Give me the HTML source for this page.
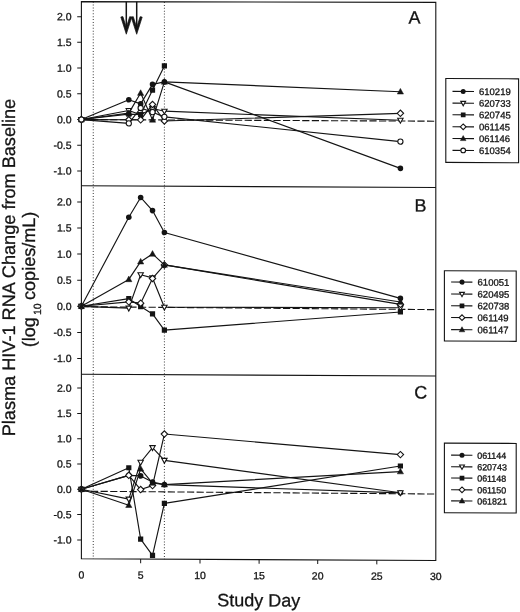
<!DOCTYPE html>
<html><head><meta charset="utf-8"><title>Plasma HIV-1 RNA Change from Baseline</title>
<style>html,body{margin:0;padding:0;background:#fff}body{width:520px;height:612px;overflow:hidden}svg{display:block;will-change:transform;opacity:0.999}text{font-family:"Liberation Sans",sans-serif;fill:#141414;stroke:#141414;stroke-width:0.3px}</style></head><body>
<svg width="520" height="612" viewBox="0 0 520 612">
<rect width="520" height="612" fill="#fff"/>
<g transform="matrix(1 0.00465 0 1 0 -0.3766)">
<line x1="93.25" y1="1.6" x2="93.25" y2="558.8" stroke="#3a3a3a" stroke-width="1" stroke-dasharray="1 1.9"/>
<line x1="164.39" y1="1.6" x2="164.39" y2="558.8" stroke="#3a3a3a" stroke-width="1" stroke-dasharray="1 1.9"/>
<line x1="81.4" y1="119.55" x2="435.8" y2="119.55" stroke="#141414" stroke-width="1.1" stroke-dasharray="7.2 2.4"/>
<line x1="81.4" y1="306.70" x2="435.8" y2="308.00" stroke="#141414" stroke-width="1.1" stroke-dasharray="7.2 2.4"/>
<line x1="81.4" y1="491.20" x2="435.8" y2="492.40" stroke="#141414" stroke-width="1.1" stroke-dasharray="7.2 2.4"/>
<path d="M81.4 1.6L435.8 0.75L435.8 558.8L81.4 558.8Z" fill="none" stroke="#141414" stroke-width="1.1" stroke-linejoin="miter"/>
<line x1="81.4" y1="185.8" x2="435.8" y2="185.8" stroke="#141414" stroke-width="1.1"/>
<line x1="81.4" y1="374.3" x2="435.8" y2="374.3" stroke="#141414" stroke-width="1.1"/>
<line x1="77.2" y1="16.65" x2="81.4" y2="16.65" stroke="#141414" stroke-width="1"/>
<text x="71.6" y="20.35" font-size="10.5" text-anchor="end">2.0</text>
<line x1="77.2" y1="42.37" x2="81.4" y2="42.37" stroke="#141414" stroke-width="1"/>
<text x="71.6" y="46.07" font-size="10.5" text-anchor="end">1.5</text>
<line x1="77.2" y1="68.10" x2="81.4" y2="68.10" stroke="#141414" stroke-width="1"/>
<text x="71.6" y="71.80" font-size="10.5" text-anchor="end">1.0</text>
<line x1="77.2" y1="93.82" x2="81.4" y2="93.82" stroke="#141414" stroke-width="1"/>
<text x="71.6" y="97.52" font-size="10.5" text-anchor="end">0.5</text>
<line x1="77.2" y1="119.55" x2="81.4" y2="119.55" stroke="#141414" stroke-width="1"/>
<text x="71.6" y="123.25" font-size="10.5" text-anchor="end">0.0</text>
<line x1="77.2" y1="145.28" x2="81.4" y2="145.28" stroke="#141414" stroke-width="1"/>
<text x="71.6" y="148.97" font-size="10.5" text-anchor="end">-0.5</text>
<line x1="77.2" y1="171.00" x2="81.4" y2="171.00" stroke="#141414" stroke-width="1"/>
<text x="71.6" y="174.70" font-size="10.5" text-anchor="end">-1.0</text>
<line x1="77.2" y1="201.90" x2="81.4" y2="201.90" stroke="#141414" stroke-width="1"/>
<text x="71.6" y="205.60" font-size="10.5" text-anchor="end">2.0</text>
<line x1="77.2" y1="228.00" x2="81.4" y2="228.00" stroke="#141414" stroke-width="1"/>
<text x="71.6" y="231.70" font-size="10.5" text-anchor="end">1.5</text>
<line x1="77.2" y1="254.10" x2="81.4" y2="254.10" stroke="#141414" stroke-width="1"/>
<text x="71.6" y="257.80" font-size="10.5" text-anchor="end">1.0</text>
<line x1="77.2" y1="280.20" x2="81.4" y2="280.20" stroke="#141414" stroke-width="1"/>
<text x="71.6" y="283.90" font-size="10.5" text-anchor="end">0.5</text>
<line x1="77.2" y1="306.30" x2="81.4" y2="306.30" stroke="#141414" stroke-width="1"/>
<text x="71.6" y="310.00" font-size="10.5" text-anchor="end">0.0</text>
<line x1="77.2" y1="332.40" x2="81.4" y2="332.40" stroke="#141414" stroke-width="1"/>
<text x="71.6" y="336.10" font-size="10.5" text-anchor="end">-0.5</text>
<line x1="77.2" y1="358.50" x2="81.4" y2="358.50" stroke="#141414" stroke-width="1"/>
<text x="71.6" y="362.20" font-size="10.5" text-anchor="end">-1.0</text>
<line x1="77.2" y1="388.10" x2="81.4" y2="388.10" stroke="#141414" stroke-width="1"/>
<text x="71.6" y="391.80" font-size="10.5" text-anchor="end">2.0</text>
<line x1="77.2" y1="413.40" x2="81.4" y2="413.40" stroke="#141414" stroke-width="1"/>
<text x="71.6" y="417.10" font-size="10.5" text-anchor="end">1.5</text>
<line x1="77.2" y1="438.70" x2="81.4" y2="438.70" stroke="#141414" stroke-width="1"/>
<text x="71.6" y="442.40" font-size="10.5" text-anchor="end">1.0</text>
<line x1="77.2" y1="464.00" x2="81.4" y2="464.00" stroke="#141414" stroke-width="1"/>
<text x="71.6" y="467.70" font-size="10.5" text-anchor="end">0.5</text>
<line x1="77.2" y1="489.30" x2="81.4" y2="489.30" stroke="#141414" stroke-width="1"/>
<text x="71.6" y="493.00" font-size="10.5" text-anchor="end">0.0</text>
<line x1="77.2" y1="514.60" x2="81.4" y2="514.60" stroke="#141414" stroke-width="1"/>
<text x="71.6" y="518.30" font-size="10.5" text-anchor="end">-0.5</text>
<line x1="77.2" y1="539.90" x2="81.4" y2="539.90" stroke="#141414" stroke-width="1"/>
<text x="71.6" y="543.60" font-size="10.5" text-anchor="end">-1.0</text>
<text x="81.40" y="578.4" font-size="10.5" text-anchor="middle">0</text>
<line x1="140.65" y1="558.8" x2="140.65" y2="563.0" stroke="#141414" stroke-width="1"/>
<text x="140.65" y="578.4" font-size="10.5" text-anchor="middle">5</text>
<line x1="200.00" y1="558.8" x2="200.00" y2="563.0" stroke="#141414" stroke-width="1"/>
<text x="200.00" y="578.4" font-size="10.5" text-anchor="middle">10</text>
<line x1="259.10" y1="558.8" x2="259.10" y2="563.0" stroke="#141414" stroke-width="1"/>
<text x="259.10" y="578.4" font-size="10.5" text-anchor="middle">15</text>
<line x1="317.70" y1="558.8" x2="317.70" y2="563.0" stroke="#141414" stroke-width="1"/>
<text x="317.70" y="578.4" font-size="10.5" text-anchor="middle">20</text>
<line x1="376.80" y1="558.8" x2="376.80" y2="563.0" stroke="#141414" stroke-width="1"/>
<text x="376.80" y="578.4" font-size="10.5" text-anchor="middle">25</text>
<text x="435.80" y="578.4" font-size="10.5" text-anchor="middle">30</text>
<path d="M81.40 119.55L128.80 99.48L140.65 103.60L152.52 84.05L164.39 81.48L400.40 166.88" fill="none" stroke="#141414" stroke-width="1.15" stroke-linejoin="round"/>
<circle cx="81.40" cy="119.55" r="2.80" fill="#141414"/>
<circle cx="128.80" cy="99.48" r="2.80" fill="#141414"/>
<circle cx="140.65" cy="103.60" r="2.80" fill="#141414"/>
<circle cx="152.52" cy="84.05" r="2.80" fill="#141414"/>
<circle cx="164.39" cy="81.48" r="2.80" fill="#141414"/>
<circle cx="400.40" cy="166.88" r="2.80" fill="#141414"/>
<path d="M81.40 119.55L128.80 110.29L140.65 114.41L152.52 108.23L164.39 110.80L400.40 118.78" fill="none" stroke="#141414" stroke-width="1.15" stroke-linejoin="round"/>
<path d="M78.70 117.55L84.10 117.55L81.40 122.45Z" fill="#fff" stroke="#141414" stroke-width="1.1"/>
<path d="M126.10 108.29L131.50 108.29L128.80 113.19Z" fill="#fff" stroke="#141414" stroke-width="1.1"/>
<path d="M137.95 112.41L143.35 112.41L140.65 117.31Z" fill="#fff" stroke="#141414" stroke-width="1.1"/>
<path d="M149.82 106.23L155.22 106.23L152.52 111.13Z" fill="#fff" stroke="#141414" stroke-width="1.1"/>
<path d="M161.69 108.80L167.09 108.80L164.39 113.70Z" fill="#fff" stroke="#141414" stroke-width="1.1"/>
<path d="M397.70 116.78L403.10 116.78L400.40 121.68Z" fill="#fff" stroke="#141414" stroke-width="1.1"/>
<path d="M81.40 119.55L128.80 113.89L140.65 114.41L152.52 89.71L164.39 65.53" fill="none" stroke="#141414" stroke-width="1.15" stroke-linejoin="round"/>
<rect x="78.80" y="116.95" width="5.20" height="5.20" fill="#141414"/>
<rect x="126.20" y="111.29" width="5.20" height="5.20" fill="#141414"/>
<rect x="138.05" y="111.81" width="5.20" height="5.20" fill="#141414"/>
<rect x="149.92" y="87.11" width="5.20" height="5.20" fill="#141414"/>
<rect x="161.79" y="62.93" width="5.20" height="5.20" fill="#141414"/>
<path d="M81.40 119.55L128.80 119.55L140.65 119.55L152.52 104.11L164.39 120.58L400.40 111.83" fill="none" stroke="#141414" stroke-width="1.15" stroke-linejoin="round"/>
<path d="M78.20 119.55L81.40 116.35L84.60 119.55L81.40 122.75Z" fill="#fff" stroke="#141414" stroke-width="1.1"/>
<path d="M125.60 119.55L128.80 116.35L132.00 119.55L128.80 122.75Z" fill="#fff" stroke="#141414" stroke-width="1.1"/>
<path d="M137.45 119.55L140.65 116.35L143.85 119.55L140.65 122.75Z" fill="#fff" stroke="#141414" stroke-width="1.1"/>
<path d="M149.32 104.11L152.52 100.91L155.72 104.11L152.52 107.31Z" fill="#fff" stroke="#141414" stroke-width="1.1"/>
<path d="M161.19 120.58L164.39 117.38L167.59 120.58L164.39 123.78Z" fill="#fff" stroke="#141414" stroke-width="1.1"/>
<path d="M397.20 111.83L400.40 108.63L403.60 111.83L400.40 115.03Z" fill="#fff" stroke="#141414" stroke-width="1.1"/>
<path d="M81.40 119.55L128.80 112.86L140.65 92.80L152.52 119.55L164.39 81.48L400.40 90.22" fill="none" stroke="#141414" stroke-width="1.15" stroke-linejoin="round"/>
<path d="M78.30 121.85L81.40 116.25L84.50 121.85Z" fill="#141414" stroke="#141414" stroke-width="0.5"/>
<path d="M125.70 115.16L128.80 109.56L131.90 115.16Z" fill="#141414" stroke="#141414" stroke-width="0.5"/>
<path d="M137.55 95.10L140.65 89.50L143.75 95.10Z" fill="#141414" stroke="#141414" stroke-width="0.5"/>
<path d="M149.42 121.85L152.52 116.25L155.62 121.85Z" fill="#141414" stroke="#141414" stroke-width="0.5"/>
<path d="M161.29 83.78L164.39 78.18L167.49 83.78Z" fill="#141414" stroke="#141414" stroke-width="0.5"/>
<path d="M397.30 92.52L400.40 86.92L403.50 92.52Z" fill="#141414" stroke="#141414" stroke-width="0.5"/>
<path d="M81.40 119.55L128.80 123.15L140.65 107.72L152.52 111.83L164.39 116.46L400.40 140.13" fill="none" stroke="#141414" stroke-width="1.15" stroke-linejoin="round"/>
<circle cx="81.40" cy="119.55" r="2.60" fill="#fff" stroke="#141414" stroke-width="1.1"/>
<circle cx="128.80" cy="123.15" r="2.60" fill="#fff" stroke="#141414" stroke-width="1.1"/>
<circle cx="140.65" cy="107.72" r="2.60" fill="#fff" stroke="#141414" stroke-width="1.1"/>
<circle cx="152.52" cy="111.83" r="2.60" fill="#fff" stroke="#141414" stroke-width="1.1"/>
<circle cx="164.39" cy="116.46" r="2.60" fill="#fff" stroke="#141414" stroke-width="1.1"/>
<circle cx="400.40" cy="140.13" r="2.60" fill="#fff" stroke="#141414" stroke-width="1.1"/>
<path d="M81.40 306.30L128.80 217.04L140.65 197.20L152.52 210.25L164.39 232.18L400.40 296.90" fill="none" stroke="#141414" stroke-width="1.15" stroke-linejoin="round"/>
<circle cx="81.40" cy="306.30" r="2.80" fill="#141414"/>
<circle cx="128.80" cy="217.04" r="2.80" fill="#141414"/>
<circle cx="140.65" cy="197.20" r="2.80" fill="#141414"/>
<circle cx="152.52" cy="210.25" r="2.80" fill="#141414"/>
<circle cx="164.39" cy="232.18" r="2.80" fill="#141414"/>
<circle cx="400.40" cy="296.90" r="2.80" fill="#141414"/>
<path d="M81.40 306.30L128.80 307.87L140.65 274.46L152.52 277.59L164.39 306.82L400.40 306.30" fill="none" stroke="#141414" stroke-width="1.15" stroke-linejoin="round"/>
<path d="M78.70 304.30L84.10 304.30L81.40 309.20Z" fill="#fff" stroke="#141414" stroke-width="1.1"/>
<path d="M126.10 305.87L131.50 305.87L128.80 310.77Z" fill="#fff" stroke="#141414" stroke-width="1.1"/>
<path d="M137.95 272.46L143.35 272.46L140.65 277.36Z" fill="#fff" stroke="#141414" stroke-width="1.1"/>
<path d="M149.82 275.59L155.22 275.59L152.52 280.49Z" fill="#fff" stroke="#141414" stroke-width="1.1"/>
<path d="M161.69 304.82L167.09 304.82L164.39 309.72Z" fill="#fff" stroke="#141414" stroke-width="1.1"/>
<path d="M397.70 304.30L403.10 304.30L400.40 309.20Z" fill="#fff" stroke="#141414" stroke-width="1.1"/>
<path d="M81.40 306.30L128.80 298.47L140.65 306.30L152.52 313.61L164.39 329.79L400.40 310.48" fill="none" stroke="#141414" stroke-width="1.15" stroke-linejoin="round"/>
<rect x="78.80" y="303.70" width="5.20" height="5.20" fill="#141414"/>
<rect x="126.20" y="295.87" width="5.20" height="5.20" fill="#141414"/>
<rect x="138.05" y="303.70" width="5.20" height="5.20" fill="#141414"/>
<rect x="149.92" y="311.01" width="5.20" height="5.20" fill="#141414"/>
<rect x="161.79" y="327.19" width="5.20" height="5.20" fill="#141414"/>
<rect x="397.80" y="307.88" width="5.20" height="5.20" fill="#141414"/>
<path d="M81.40 306.30L128.80 301.60L140.65 302.91L152.52 278.11L164.39 264.54L400.40 302.91" fill="none" stroke="#141414" stroke-width="1.15" stroke-linejoin="round"/>
<path d="M78.20 306.30L81.40 303.10L84.60 306.30L81.40 309.50Z" fill="#fff" stroke="#141414" stroke-width="1.1"/>
<path d="M125.60 301.60L128.80 298.40L132.00 301.60L128.80 304.80Z" fill="#fff" stroke="#141414" stroke-width="1.1"/>
<path d="M137.45 302.91L140.65 299.71L143.85 302.91L140.65 306.11Z" fill="#fff" stroke="#141414" stroke-width="1.1"/>
<path d="M149.32 278.11L152.52 274.91L155.72 278.11L152.52 281.31Z" fill="#fff" stroke="#141414" stroke-width="1.1"/>
<path d="M161.19 264.54L164.39 261.34L167.59 264.54L164.39 267.74Z" fill="#fff" stroke="#141414" stroke-width="1.1"/>
<path d="M397.20 302.91L400.40 299.71L403.60 302.91L400.40 306.11Z" fill="#fff" stroke="#141414" stroke-width="1.1"/>
<path d="M81.40 306.30L128.80 279.16L140.65 261.41L152.52 253.58L164.39 264.54L400.40 300.56" fill="none" stroke="#141414" stroke-width="1.15" stroke-linejoin="round"/>
<path d="M78.30 308.60L81.40 303.00L84.50 308.60Z" fill="#141414" stroke="#141414" stroke-width="0.5"/>
<path d="M125.70 281.46L128.80 275.86L131.90 281.46Z" fill="#141414" stroke="#141414" stroke-width="0.5"/>
<path d="M137.55 263.71L140.65 258.11L143.75 263.71Z" fill="#141414" stroke="#141414" stroke-width="0.5"/>
<path d="M149.42 255.88L152.52 250.28L155.62 255.88Z" fill="#141414" stroke="#141414" stroke-width="0.5"/>
<path d="M161.29 266.84L164.39 261.24L167.49 266.84Z" fill="#141414" stroke="#141414" stroke-width="0.5"/>
<path d="M397.30 302.86L400.40 297.26L403.50 302.86Z" fill="#141414" stroke="#141414" stroke-width="0.5"/>
<path d="M81.40 489.30L128.80 475.13L140.65 475.64L152.52 481.71L164.39 484.24L400.40 491.32" fill="none" stroke="#141414" stroke-width="1.15" stroke-linejoin="round"/>
<circle cx="81.40" cy="489.30" r="2.80" fill="#141414"/>
<circle cx="128.80" cy="475.13" r="2.80" fill="#141414"/>
<circle cx="140.65" cy="475.64" r="2.80" fill="#141414"/>
<circle cx="152.52" cy="481.71" r="2.80" fill="#141414"/>
<circle cx="164.39" cy="484.24" r="2.80" fill="#141414"/>
<circle cx="400.40" cy="491.32" r="2.80" fill="#141414"/>
<path d="M81.40 489.30L128.80 498.91L140.65 461.98L152.52 447.30L164.39 459.95L400.40 491.32" fill="none" stroke="#141414" stroke-width="1.15" stroke-linejoin="round"/>
<path d="M78.70 487.30L84.10 487.30L81.40 492.20Z" fill="#fff" stroke="#141414" stroke-width="1.1"/>
<path d="M126.10 496.91L131.50 496.91L128.80 501.81Z" fill="#fff" stroke="#141414" stroke-width="1.1"/>
<path d="M137.95 459.98L143.35 459.98L140.65 464.88Z" fill="#fff" stroke="#141414" stroke-width="1.1"/>
<path d="M149.82 445.30L155.22 445.30L152.52 450.20Z" fill="#fff" stroke="#141414" stroke-width="1.1"/>
<path d="M161.69 457.95L167.09 457.95L164.39 462.85Z" fill="#fff" stroke="#141414" stroke-width="1.1"/>
<path d="M397.70 489.32L403.10 489.32L400.40 494.22Z" fill="#fff" stroke="#141414" stroke-width="1.1"/>
<path d="M81.40 489.30L128.80 467.54L140.65 538.89L152.52 555.08L164.39 502.96L400.40 464.51" fill="none" stroke="#141414" stroke-width="1.15" stroke-linejoin="round"/>
<rect x="78.80" y="486.70" width="5.20" height="5.20" fill="#141414"/>
<rect x="126.20" y="464.94" width="5.20" height="5.20" fill="#141414"/>
<rect x="138.05" y="536.29" width="5.20" height="5.20" fill="#141414"/>
<rect x="149.92" y="552.48" width="5.20" height="5.20" fill="#141414"/>
<rect x="161.79" y="500.36" width="5.20" height="5.20" fill="#141414"/>
<rect x="397.80" y="461.91" width="5.20" height="5.20" fill="#141414"/>
<path d="M81.40 489.30L128.80 475.13L140.65 489.30L152.52 485.25L164.39 433.64L400.40 453.12" fill="none" stroke="#141414" stroke-width="1.15" stroke-linejoin="round"/>
<path d="M78.20 489.30L81.40 486.10L84.60 489.30L81.40 492.50Z" fill="#fff" stroke="#141414" stroke-width="1.1"/>
<path d="M125.60 475.13L128.80 471.93L132.00 475.13L128.80 478.33Z" fill="#fff" stroke="#141414" stroke-width="1.1"/>
<path d="M137.45 489.30L140.65 486.10L143.85 489.30L140.65 492.50Z" fill="#fff" stroke="#141414" stroke-width="1.1"/>
<path d="M149.32 485.25L152.52 482.05L155.72 485.25L152.52 488.45Z" fill="#fff" stroke="#141414" stroke-width="1.1"/>
<path d="M161.19 433.64L164.39 430.44L167.59 433.64L164.39 436.84Z" fill="#fff" stroke="#141414" stroke-width="1.1"/>
<path d="M397.20 453.12L400.40 449.92L403.60 453.12L400.40 456.32Z" fill="#fff" stroke="#141414" stroke-width="1.1"/>
<path d="M81.40 489.30L128.80 504.99L140.65 468.55L152.52 482.72L164.39 484.24L400.40 470.07" fill="none" stroke="#141414" stroke-width="1.15" stroke-linejoin="round"/>
<path d="M78.30 491.60L81.40 486.00L84.50 491.60Z" fill="#141414" stroke="#141414" stroke-width="0.5"/>
<path d="M125.70 507.29L128.80 501.69L131.90 507.29Z" fill="#141414" stroke="#141414" stroke-width="0.5"/>
<path d="M137.55 470.85L140.65 465.25L143.75 470.85Z" fill="#141414" stroke="#141414" stroke-width="0.5"/>
<path d="M149.42 485.02L152.52 479.42L155.62 485.02Z" fill="#141414" stroke="#141414" stroke-width="0.5"/>
<path d="M161.29 486.54L164.39 480.94L167.49 486.54Z" fill="#141414" stroke="#141414" stroke-width="0.5"/>
<path d="M397.30 472.37L400.40 466.77L403.50 472.37Z" fill="#141414" stroke="#141414" stroke-width="0.5"/>
<line x1="126.3" y1="1.6" x2="126.3" y2="27" stroke="#141414" stroke-width="1.5"/>
<path d="M120.80 16.8L122.90 16.4L125.80 25.6L126.80 25.6L129.70 16.4L131.80 16.8L126.30 34.0Z" fill="#141414" stroke="#141414" stroke-width="0.7" stroke-linejoin="round"/>
<line x1="136.7" y1="1.6" x2="136.7" y2="27" stroke="#141414" stroke-width="1.5"/>
<path d="M131.20 16.8L133.30 16.4L136.20 25.6L137.20 25.6L140.10 16.4L142.20 16.8L136.70 34.0Z" fill="#141414" stroke="#141414" stroke-width="0.7" stroke-linejoin="round"/>
<text x="414.6" y="22.1" font-size="18" text-anchor="middle">A</text>
<text x="420.4" y="210.0" font-size="18" text-anchor="middle">B</text>
<text x="420.8" y="397.0" font-size="18" text-anchor="middle">C</text>
<rect x="445.8" y="76.80" width="72.80" height="83.90" fill="#fff" stroke="#141414" stroke-width="1.1"/>
<line x1="452.5" y1="89.65" x2="474.0" y2="89.65" stroke="#141414" stroke-width="1.1"/>
<circle cx="463.20" cy="89.65" r="2.52" fill="#141414"/>
<text x="479.0" y="93.05" font-size="9.5">610219</text>
<line x1="452.5" y1="101.35" x2="474.0" y2="101.35" stroke="#141414" stroke-width="1.1"/>
<path d="M460.77 99.55L465.63 99.55L463.20 103.96Z" fill="#fff" stroke="#141414" stroke-width="1.1"/>
<text x="479.0" y="104.75" font-size="9.5">620733</text>
<line x1="452.5" y1="113.05" x2="474.0" y2="113.05" stroke="#141414" stroke-width="1.1"/>
<rect x="460.86" y="110.71" width="4.68" height="4.68" fill="#141414"/>
<text x="479.0" y="116.45" font-size="9.5">620745</text>
<line x1="452.5" y1="125.05" x2="474.0" y2="125.05" stroke="#141414" stroke-width="1.1"/>
<path d="M460.32 125.05L463.20 122.17L466.08 125.05L463.20 127.93Z" fill="#fff" stroke="#141414" stroke-width="1.1"/>
<text x="479.0" y="128.45" font-size="9.5">061145</text>
<line x1="452.5" y1="136.75" x2="474.0" y2="136.75" stroke="#141414" stroke-width="1.1"/>
<path d="M460.41 138.82L463.20 133.78L465.99 138.82Z" fill="#141414" stroke="#141414" stroke-width="0.5"/>
<text x="479.0" y="140.15" font-size="9.5">061146</text>
<line x1="452.5" y1="148.65" x2="474.0" y2="148.65" stroke="#141414" stroke-width="1.1"/>
<circle cx="463.20" cy="148.65" r="2.34" fill="#fff" stroke="#141414" stroke-width="1.1"/>
<text x="479.0" y="152.05" font-size="9.5">610354</text>
<rect x="444.4" y="269.00" width="71.80" height="70.30" fill="#fff" stroke="#141414" stroke-width="1.1"/>
<line x1="451.1" y1="280.35" x2="472.4" y2="280.35" stroke="#141414" stroke-width="1.1"/>
<circle cx="462.00" cy="280.35" r="2.52" fill="#141414"/>
<text x="477.6" y="283.75" font-size="9.5">610051</text>
<line x1="451.1" y1="292.35" x2="472.4" y2="292.35" stroke="#141414" stroke-width="1.1"/>
<path d="M459.57 290.55L464.43 290.55L462.00 294.96Z" fill="#fff" stroke="#141414" stroke-width="1.1"/>
<text x="477.6" y="295.75" font-size="9.5">620495</text>
<line x1="451.1" y1="304.05" x2="472.4" y2="304.05" stroke="#141414" stroke-width="1.1"/>
<rect x="459.66" y="301.71" width="4.68" height="4.68" fill="#141414"/>
<text x="477.6" y="307.45" font-size="9.5">620738</text>
<line x1="451.1" y1="315.85" x2="472.4" y2="315.85" stroke="#141414" stroke-width="1.1"/>
<path d="M459.12 315.85L462.00 312.97L464.88 315.85L462.00 318.73Z" fill="#fff" stroke="#141414" stroke-width="1.1"/>
<text x="477.6" y="319.25" font-size="9.5">061149</text>
<line x1="451.1" y1="327.95" x2="472.4" y2="327.95" stroke="#141414" stroke-width="1.1"/>
<path d="M459.21 330.02L462.00 324.98L464.79 330.02Z" fill="#141414" stroke="#141414" stroke-width="0.5"/>
<text x="477.6" y="331.35" font-size="9.5">061147</text>
<rect x="444.4" y="441.40" width="71.80" height="69.60" fill="#fff" stroke="#141414" stroke-width="1.1"/>
<line x1="451.1" y1="453.45" x2="472.4" y2="453.45" stroke="#141414" stroke-width="1.1"/>
<circle cx="462.00" cy="453.45" r="2.52" fill="#141414"/>
<text x="477.2" y="456.85" font-size="8.9">061144</text>
<line x1="451.1" y1="465.05" x2="472.4" y2="465.05" stroke="#141414" stroke-width="1.1"/>
<path d="M459.57 463.25L464.43 463.25L462.00 467.66Z" fill="#fff" stroke="#141414" stroke-width="1.1"/>
<text x="477.2" y="468.45" font-size="8.9">620743</text>
<line x1="451.1" y1="476.35" x2="472.4" y2="476.35" stroke="#141414" stroke-width="1.1"/>
<rect x="459.66" y="474.01" width="4.68" height="4.68" fill="#141414"/>
<text x="477.2" y="479.75" font-size="8.9">061148</text>
<line x1="451.1" y1="488.05" x2="472.4" y2="488.05" stroke="#141414" stroke-width="1.1"/>
<path d="M459.12 488.05L462.00 485.17L464.88 488.05L462.00 490.93Z" fill="#fff" stroke="#141414" stroke-width="1.1"/>
<text x="477.2" y="491.45" font-size="8.9">061150</text>
<line x1="451.1" y1="499.15" x2="472.4" y2="499.15" stroke="#141414" stroke-width="1.1"/>
<path d="M459.21 501.22L462.00 496.18L464.79 501.22Z" fill="#141414" stroke="#141414" stroke-width="0.5"/>
<text x="477.2" y="502.55" font-size="8.9">061821</text>
<text x="258.8" y="605.6" font-size="18" text-anchor="middle">Study Day</text>
<text transform="translate(14.6 436.6) rotate(-90)" font-size="18.13">Plasma HIV-1 RNA Change from Baseline</text>
<text transform="translate(35.0 347.5) rotate(-90)" font-size="18">(log<tspan font-size="10.5" dx="2.3" dy="6.3">10</tspan><tspan dx="-1.6" dy="-6.3"> copies/mL)</tspan></text>
</g></svg></body></html>
